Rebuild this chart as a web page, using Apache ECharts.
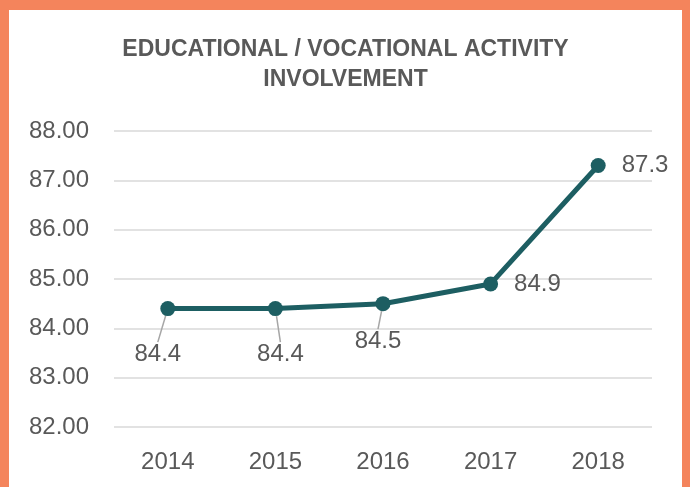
<!DOCTYPE html>
<html><head><meta charset="utf-8">
<script src="https://cdn.jsdelivr.net/npm/echarts@6/dist/echarts.min.js"></script>
<style>
html,body{margin:0;padding:0;background:#fff;}
#wrap{position:absolute;left:0;top:0;width:690px;height:487px;box-sizing:border-box;border-left:9px solid #F4845C;border-top:10px solid #F4845C;border-right:8px solid #F4845C;}
#c{width:100%;height:100%;}
</style></head>
<body><div id="wrap"><div id="c"></div></div>
<script>
var categories = ['2014','2015','2016','2017','2018'];
var values = [84.4, 84.4, 84.5, 84.9, 87.3];
var yTicks = {min: 82, max: 88, interval: 1};

var labelCfg = [
  {position:'bottom', dx:-10, dy:20},
  {position:'bottom', dx:5, dy:20},
  {position:'bottom', dx:-5, dy:12},
  {position:'right', dx:0, dy:0},
  {position:'right', dx:0, dy:0}
];

var chart = echarts.init(document.getElementById('c'));
chart.setOption({
  animation:false,
  backgroundColor:'#fff',
  title:{
    text:'EDUCATIONAL / VOCATIONAL ACTIVITY\nINVOLVEMENT',
    left:'center', top:19,
    textStyle:{fontFamily:'Liberation Sans', fontWeight:'bold', fontSize:23, lineHeight:30.5, color:'#595959'}
  },
  grid:{left:105, right:30, top:121, bottom:60},
  xAxis:{
    type:'category', data:categories, boundaryGap:true,
    axisLine:{show:false}, axisTick:{show:false},
    axisLabel:{fontFamily:'Liberation Sans', fontSize:24, color:'#595959', margin:23}
  },
  yAxis:{
    type:'value', min:yTicks.min, max:yTicks.max, interval:yTicks.interval,
    axisLine:{show:false}, axisTick:{show:false},
    axisLabel:{fontFamily:'Liberation Sans', fontSize:24, color:'#595959', margin:25,
      formatter:function(v){return v.toFixed(2);}},
    splitLine:{lineStyle:{color:'#d9d9d9', width:1.5}}
  },
  series:[{
    type:'line',
    data:values.map(function(v,i){
      var c = labelCfg[i];
      var right = c.position==='right';
      return {value:v,
        label:{position:c.position, distance:(right?16:6)},
        labelLine:{show:!right}};
    }),
    symbol:'circle', symbolSize:15,
    lineStyle:{color:'#1D5E62', width:5},
    itemStyle:{color:'#1D5E62'},
    label:{show:true, fontFamily:'Liberation Sans', fontSize:24, color:'#595959',
      formatter:function(p){return p.value.toFixed(1);}},
    labelLine:{show:true, lineStyle:{color:'#a6a6a6', width:1.5}},
    labelLayout:function(p){
      var c = labelCfg[p.dataIndex];
      if(c.position==='right') return {};
      return {dx:c.dx, dy:c.dy};
    }
  }]
});
</script></body></html>
